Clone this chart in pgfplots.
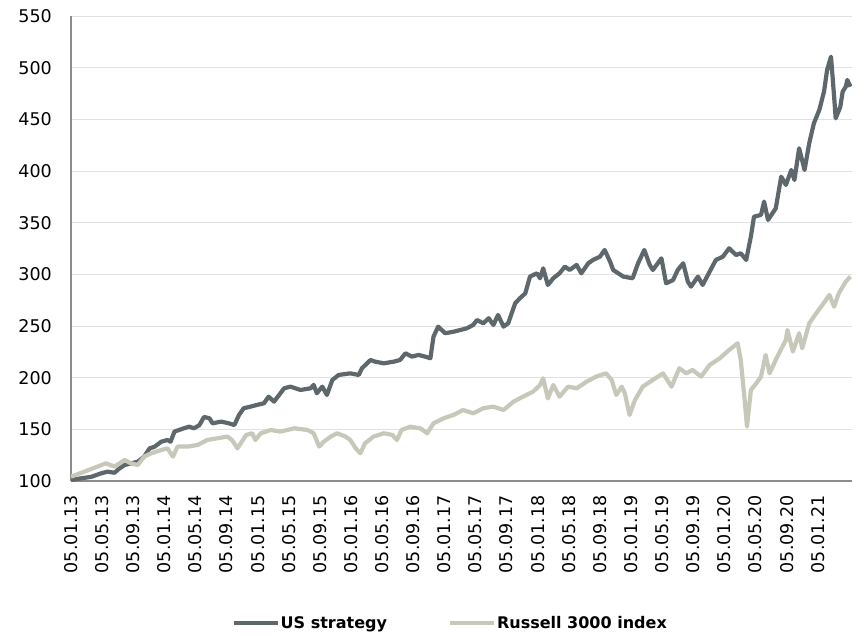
\documentclass[border=0pt]{standalone}
\usepackage{pgfplots}
\pgfplotsset{compat=1.18}
\usepackage{fontspec}
\setmainfont{DejaVu Sans}

\definecolor{usdark}{RGB}{94,104,108}
\definecolor{russ}{RGB}{200,200,186}
\definecolor{gridc}{RGB}{226,226,226}
\definecolor{axc}{RGB}{140,140,140}

% x = months since 05.01.13
\pgfplotstableread{
m v
0.0 101
1.3 102.6
2.6 104
3.9 107.5
4.7 109
5.6 108
6.2 112
6.9 115.5
7.7 117
8.6 118.7
9.4 123.6
10.1 131.6
10.7 133
11.6 138
12.4 139.7
12.8 138
13.3 147.8
13.9 149.4
14.5 151
15.2 152.6
15.8 151
16.5 154
17.1 162
17.8 160.7
18.2 155.8
19.3 157.5
20.3 155.8
21.0 154.2
21.6 163.9
22.2 170.4
23.1 172
23.9 173.6
24.8 175.2
25.4 181.6
26.1 176.8
27.4 189.7
28.2 191.3
29.5 188.1
30.8 189.7
31.2 193
31.6 184.9
32.3 191.3
32.9 183.3
33.6 197.8
34.4 202.6
35.9 204.2
37.0 202.6
37.4 209.1
38.5 217.1
39.1 215.5
40.2 213.9
41.5 215.5
42.3 217.1
43.0 223.6
43.8 220.4
44.7 222
45.5 220.4
46.2 218.8
46.6 239.7
47.2 249.4
48.1 243
49.2 244.5
50.9 247.8
51.7 251
52.2 255.8
53.0 252.6
53.7 257.5
54.3 251
54.9 260.7
55.6 249.4
56.2 252.6
57.1 272
57.7 276.8
58.4 281.6
59.0 297.8
59.9 301
60.3 296.2
60.7 305.8
61.3 289.7
62.0 296.2
62.8 301
63.5 307.5
64.1 304.2
65.0 309.1
65.6 301
66.5 310.7
67.1 313.9
68.0 317.1
68.6 323.6
69.3 312.3
69.7 304.2
71.0 297.8
72.2 296.2
72.9 310.7
73.7 323.6
74.4 309.1
74.8 304.2
75.9 315.5
76.5 291.3
77.4 294.5
78.0 304.2
78.7 310.7
79.3 292.9
79.7 288.1
80.6 297.8
81.2 289.7
82.1 302.6
82.9 313.9
83.8 317.1
84.6 325.2
85.5 318.7
86.1 320.4
86.8 313.9
87.4 336.5
87.8 355.8
88.7 357.5
89.1 370.4
89.6 352.6
90.6 363.9
91.3 394.5
91.9 386.5
92.6 401
93.0 391.3
93.6 422
94.3 401
94.9 426.8
95.5 446.2
96.2 459.1
96.8 476.8
97.2 497.8
97.7 510.7
98.1 472
98.3 451
98.9 462.3
99.2 476.8
99.6 481.6
99.8 488.1
100.2 481.6
}\usdata

\pgfplotstableread{
m v
0.0 104.2
1.7 109
3.4 113.9
4.5 117.1
5.6 113.9
6.9 120.4
7.7 117.1
8.6 115.5
9.4 123.6
10.3 126.8
11.6 130
12.4 131.6
13.1 123.6
13.7 133.3
15.0 133.3
16.3 134.9
17.5 139.7
18.8 141.3
20.1 143
20.7 139.7
21.4 131.6
22.5 144.5
23.3 146.2
23.7 139.7
24.4 146.2
25.7 149.4
26.9 147.8
28.7 151
30.4 149.4
31.2 146.2
31.9 133.3
32.5 138.1
33.4 143
34.2 146.2
35.3 143
35.9 139.7
36.6 131.6
37.2 126.8
37.8 136.5
38.9 143
40.2 146.2
41.3 144.6
41.9 139.7
42.5 149.4
43.6 152.6
44.9 151
45.8 146.2
46.6 155.8
47.9 160.7
49.2 164
50.4 168.7
51.7 165.5
53.0 170.4
54.3 172
55.6 168.7
56.9 176.8
58.1 181.6
59.4 186.5
60.3 192.9
60.7 199.4
61.3 180
62.0 192.9
62.8 181.6
63.9 191.3
65.0 189.7
66.3 196.2
67.5 201
68.8 204.2
69.5 197.8
70.1 183.3
70.8 191.3
71.2 184.9
71.8 163.9
72.5 178.4
73.5 191.3
74.8 197.8
76.1 204.2
77.2 191.3
78.2 209.1
79.1 204.2
79.9 207.5
81.0 201
82.1 212.3
83.4 218.7
84.6 226.8
85.7 233.3
86.1 217.1
86.6 178.4
86.9 152.6
87.4 188.1
88.1 194.5
88.7 201
89.3 222
89.8 204.2
90.8 220.4
91.9 236.5
92.1 246.2
92.8 225.2
93.6 243
94.0 228.4
94.9 252.6
95.8 262.3
96.6 270.4
97.5 280.1
98.1 268.7
98.7 281.6
99.6 293
100.2 297.8
}\russdata

\begin{document}
\begin{tikzpicture}
\path (-71pt,-154pt) rectangle (794pt,481pt);
\begin{axis}[
    at={(0,0)}, anchor=south west,
    scale only axis,
    width=781pt, height=465pt,
    xmin=0, xmax=100.4,
    ymin=100, ymax=550,
    ytick={100,150,...,550},
    xtick={0,4,...,96},
    xticklabels={05.01.13,05.05.13,05.09.13,05.01.14,05.05.14,05.09.14,05.01.15,05.05.15,05.09.15,05.01.16,05.05.16,05.09.16,05.01.17,05.05.17,05.09.17,05.01.18,05.05.18,05.09.18,05.01.19,05.05.19,05.09.19,05.01.20,05.05.20,05.09.20,05.01.21},
    axis x line*=bottom, axis y line*=left,
    axis line style={draw=axc, line width=1.5pt, -},
    tick style={draw=none},
    ymajorgrids, grid style={draw=gridc, line width=1pt},
    /pgf/number format/assume math mode=true,
    ticklabel style={font=\fontsize{17.5}{20}\selectfont},
    yticklabel style={anchor=east, inner sep=0pt, xshift=-19pt},
    xticklabel style={rotate=90, anchor=east, inner sep=0pt, xshift=-14pt},
    legend columns=2,
    legend style={at={(0.485,-0.305)}, anchor=center, draw=none, fill=none,
        font=\fontsize{16}{19}\selectfont\bfseries,
        /tikz/every even column/.append style={column sep=60pt},
        nodes={inner sep=1pt}},
    legend image code/.code={\draw[#1, line width=4pt] (0pt,0pt) -- (44pt,0pt);},
]
\addplot[usdark, line width=4.2pt, line join=round] table[x=m, y=v] {\usdata};
\addlegendentry{US strategy}
\addplot[russ, line width=4.2pt, line join=round] table[x=m, y=v] {\russdata};
\addlegendentry{Russell 3000 index}
\end{axis}
\end{tikzpicture}
\end{document}
